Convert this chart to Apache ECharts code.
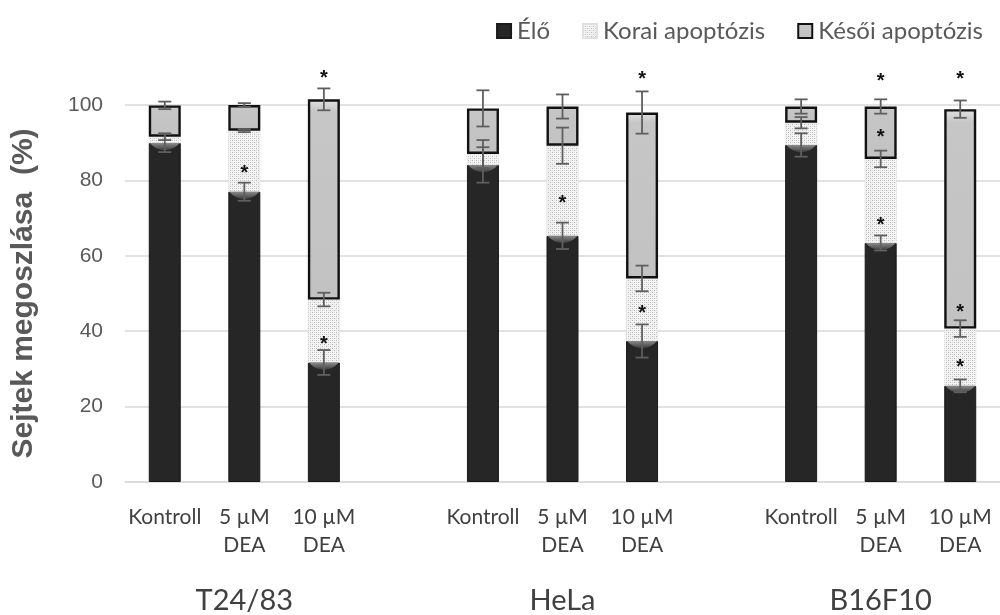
<!DOCTYPE html>
<html>
<head>
<meta charset="utf-8">
<script src="https://cdn.jsdelivr.net/npm/echarts@6/dist/echarts.min.js"></script>
<style>
  html, body { margin: 0; padding: 0; background: #ffffff; }
  #chart { width: 1000px; height: 615px; }
</style>
</head>
<body>
<div id="chart"></div>
<script>
// Cell lines and treatments (three bars per cell line)
const cellLines = ['T24/83', 'HeLa', 'B16F10'];
const treatments = ['Kontroll', '5 µM\nDEA', '10 µM\nDEA'];
const seriesNames = ['Élő', 'Korai apoptózis', 'Késői apoptózis'];

// Cell distribution (%), order: T24/83 (K, 5, 10), HeLa (K, 5, 10), B16F10 (K, 5, 10)
const elo    = [89.9, 77.0, 31.7, 84.1, 65.3, 37.4, 89.4, 63.4, 25.5];
const korai  = [ 1.7, 16.2, 16.7,  2.9, 23.9, 16.6,  5.9, 22.3, 15.2];
const kesoi  = [ 8.3,  6.8, 53.1, 12.1, 10.4, 44.0,  4.3, 13.9, 58.2];

// Standard deviations of each segment
const eloErr   = [2.4, 2.4, 3.3, 4.7, 3.5, 4.4, 3.1, 2.0, 1.7];
const koraiErr = [0.9, 0.4, 1.8, 3.7, 4.8, 3.4, 1.5, 2.2, 2.2];
const kesoiErr = [1.0, 0.5, 2.9, 4.8, 3.2, 5.6, 1.9, 1.9, 2.3];

// Significance marks: [bar index, height in %]
const stars = [
  [1, 83.0],
  [2, 37.6], [2, 108.1],
  [4, 74.9],
  [5, 45.8], [5, 107.9],
  [7, 69.1], [7, 92.5], [7, 107.3],
  [8, 31.5], [8, 46.0], [8, 107.9]
];

// Category slots: three bars per cell line, one empty slot between cell lines
const slotOf = i => Math.floor(i / 3) * 4 + (i % 3);
const categories = [];
const groupCategories = [];
cellLines.forEach((name, g) => {
  treatments.forEach((t, k) => {
    categories.push(t);
    groupCategories.push(k === 1 ? name : '');
  });
  if (g < cellLines.length - 1) { categories.push(''); groupCategories.push(''); }
});
const spread = arr => {
  const out = categories.map(() => '-');
  arr.forEach((v, i) => { out[slotOf(i)] = v; });
  return out;
};

// Stippled fill for the early-apoptosis segments
function stipple() {
  const c = document.createElement('canvas');
  c.width = 4; c.height = 4;
  const ctx = c.getContext('2d');
  ctx.fillStyle = '#f3f3f3';
  ctx.fillRect(0, 0, 4, 4);
  ctx.fillStyle = '#b8b8b8';
  ctx.fillRect(0, 0, 1, 1);
  ctx.fillRect(2, 2, 1, 1);
  ctx.fillStyle = '#dcdcdc';
  ctx.fillRect(2, 0, 1, 1);
  ctx.fillRect(0, 2, 1, 1);
  return c;
}

// Error bar items: [slot, segment top, sd]
const errData = [];
elo.forEach((v, i) => {
  const s = slotOf(i);
  errData.push([s, v, eloErr[i]]);
  errData.push([s, v + korai[i], koraiErr[i]]);
  errData.push([s, v + korai[i] + kesoi[i], kesoiErr[i]]);
});
const capData = elo.map((v, i) => [slotOf(i), v]);
const starData = stars.map(([i, h]) => [slotOf(i), h]);

const font = 'Lato';
const chart = echarts.init(document.getElementById('chart'), null, { renderer: 'canvas' });

chart.setOption({
  animation: false,
  backgroundColor: '#ffffff',
  legend: {
    top: 14,
    right: 12,
    itemWidth: 14,
    itemHeight: 14,
    itemGap: 32,
    icon: 'rect',
    data: seriesNames,
    textStyle: { fontFamily: font, fontSize: 24, color: '#595959', padding: [0, 0, 0, 1] }
  },
  grid: { left: 125, right: -5, top: 105, bottom: 132, containLabel: false },
  xAxis: [{
    type: 'category',
    data: categories,
    axisLine: { lineStyle: { color: '#d9d9d9', width: 1.5 } },
    axisTick: { show: false },
    axisLabel: {
      interval: 0, margin: 21, fontFamily: font, fontSize: 21,
      color: '#404040', lineHeight: 28, align: 'center'
    }
  }, {
    type: 'category',
    position: 'bottom',
    offset: 96,
    data: groupCategories,
    axisLine: { show: false },
    axisTick: { show: false },
    axisLabel: { interval: 0, fontFamily: font, fontSize: 29, color: '#404040' }
  }],
  yAxis: {
    type: 'value',
    min: 0, max: 100, interval: 20,
    name: 'Sejtek megoszlása  (%)',
    nameLocation: 'middle',
    nameRotate: 90,
    nameGap: 86,
    nameTextStyle: { fontFamily: 'Liberation Sans', fontWeight: 'bold', fontSize: 30, color: '#595959' },
    axisLine: { show: false },
    axisTick: { show: false },
    axisLabel: { fontFamily: 'Liberation Sans', fontSize: 21, color: '#595959', margin: 22 },
    splitLine: { lineStyle: { color: '#d9d9d9', width: 1.5 } }
  },
  series: [{
    name: seriesNames[0], type: 'bar', stack: 'total', barWidth: 32, clip: false,
    data: spread(elo),
    itemStyle: { color: '#262626', borderColor: '#1a1a1a', borderWidth: 1 }
  }, {
    name: seriesNames[1], type: 'bar', stack: 'total', barWidth: 32, clip: false,
    data: spread(korai),
    itemStyle: { color: { image: stipple(), repeat: 'repeat' }, borderColor: '#e0e0e0', borderWidth: 0.5 }
  }, {
    name: seriesNames[2], type: 'bar', stack: 'total', barWidth: 32, clip: false,
    data: spread(kesoi),
    itemStyle: {
      color: { type: 'linear', x: 0, y: 0, x2: 0, y2: 1, colorStops: [
        { offset: 0, color: '#e2e2e2' }, { offset: 0.06, color: '#c6c6c6' }, { offset: 1, color: '#c2c2c2' }
      ] },
      borderColor: '#111111', borderWidth: 2.4
    }
  }, {
    // bevel on top of the viable-cell segments
    type: 'custom', clip: false, z: 3, silent: true,
    data: capData,
    encode: { x: 0, y: 1 },
    renderItem(params, api) {
      const p = api.coord([api.value(0), api.value(1)]);
      const hw = 15;
      return {
        type: 'path',
        shape: {
          pathData: `M ${p[0] - hw} ${p[1]} L ${p[0] + hw} ${p[1]} Q ${p[0] + hw * 0.6} ${p[1] + 7} ${p[0]} ${p[1] + 7.5} Q ${p[0] - hw * 0.6} ${p[1] + 7} ${p[0] - hw} ${p[1]} Z`
        },
        style: {
          fill: { type: 'linear', x: 0, y: 0, x2: 0, y2: 1, colorStops: [
            { offset: 0, color: '#8a8a8a' }, { offset: 1, color: '#3a3a3a' }
          ] }
        }
      };
    }
  }, {
    // error bars
    type: 'custom', clip: false, z: 4, silent: true,
    data: errData,
    encode: { x: 0, y: 1 },
    renderItem(params, api) {
      const x = api.value(0), top = api.value(1), e = api.value(2);
      const a = api.coord([x, top + e]);
      const b = api.coord([x, top - e]);
      const hw = 6.5;
      const st = { stroke: '#5f5f5f', lineWidth: 1.8 };
      return {
        type: 'group',
        children: [
          { type: 'line', shape: { x1: a[0], y1: a[1], x2: b[0], y2: b[1] }, style: st },
          { type: 'line', shape: { x1: a[0] - hw, y1: a[1], x2: a[0] + hw, y2: a[1] }, style: st },
          { type: 'line', shape: { x1: b[0] - hw, y1: b[1], x2: b[0] + hw, y2: b[1] }, style: st }
        ]
      };
    }
  }, {
    // significance asterisks
    type: 'custom', clip: false, z: 5, silent: true,
    data: starData,
    encode: { x: 0, y: 1 },
    renderItem(params, api) {
      const p = api.coord([api.value(0), api.value(1)]);
      return {
        type: 'text',
        x: p[0], y: p[1] + 4,
        style: { text: '*', font: 'bold 20px "Liberation Sans"', fill: '#111111', align: 'center', verticalAlign: 'middle' }
      };
    }
  }]
});
</script>
</body>
</html>
